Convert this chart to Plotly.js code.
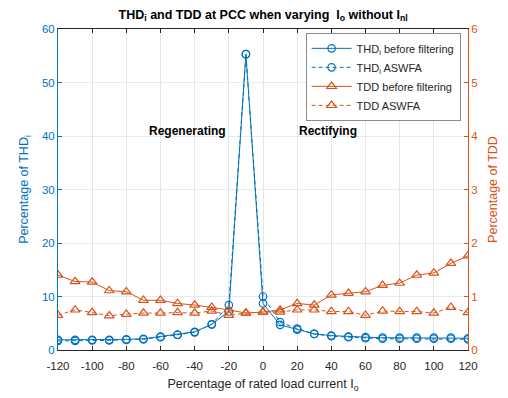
<!DOCTYPE html>
<html>
<head>
<meta charset="utf-8">
<script src="https://cdn.plot.ly/plotly-3.0.1.min.js"></script>
<style>html,body{margin:0;padding:0;background:#fff;}#chart{width:508px;height:398px;}</style>
</head>
<body>
<div id="chart"></div>
<script>
const loadPct = [-120,-110,-100,-90,-80,-70,-60,-50,-40,-30,-20,-10,0,10,20,30,40,50,60,70,80,90,100,110,120];
const thdBefore = [1.9,1.9,1.9,1.9,2.0,2.1,2.5,2.9,3.4,4.8,7.2,55.3,8.7,4.7,3.8,3.0,2.7,2.5,2.4,2.3,2.3,2.3,2.3,2.3,2.2];
const thdAswfa  = [1.7,1.7,1.8,1.8,1.9,2.0,2.4,2.8,3.3,4.8,8.4,55.3,10.0,5.2,4.0,3.0,2.6,2.4,2.2,2.1,2.1,2.1,2.1,2.1,2.0];
const tddBefore = [1.40,1.28,1.27,1.11,1.09,0.93,0.93,0.87,0.84,0.80,0.75,0.69,0.71,0.75,0.87,0.84,1.03,1.06,1.09,1.21,1.25,1.40,1.44,1.62,1.76];
const tddAswfa  = [0.65,0.75,0.70,0.64,0.67,0.69,0.69,0.70,0.69,0.73,0.65,0.69,0.71,0.71,0.75,0.75,0.72,0.72,0.65,0.73,0.72,0.72,0.69,0.80,0.70];
const xTicks = [-120,-100,-80,-60,-40,-20,0,20,40,60,80,100,120];
const leftTicks = [0,10,20,30,40,50,60];
const rightTicks = [0,1,2,3,4,5,6];

const blue = '#0072BD', orange = '#D95319';
const font = 'Liberation Sans, Arial, sans-serif';

const traces = [
  {x: loadPct, y: thdBefore, name: 'THD<sub>i</sub> before filtering', mode: 'lines+markers',
   line: {color: blue, width: 1}, marker: {symbol: 'circle-open', size: 7.5, color: blue, line: {width: 1.2}}, yaxis: 'y'},
  {x: loadPct, y: thdAswfa, name: 'THD<sub>i</sub> ASWFA', mode: 'lines+markers',
   line: {color: blue, width: 1, dash: '4px,3px'}, marker: {symbol: 'circle-open', size: 7.5, color: blue, line: {width: 1.2}}, yaxis: 'y'},
  {x: loadPct, y: tddBefore, name: 'TDD before filtering', mode: 'lines+markers',
   line: {color: orange, width: 1}, marker: {symbol: 'triangle-up-open', size: 8.5, color: orange, line: {width: 1.2}}, yaxis: 'y2'},
  {x: loadPct, y: tddAswfa, name: 'TDD ASWFA', mode: 'lines+markers',
   line: {color: orange, width: 1, dash: '4px,3px'}, marker: {symbol: 'triangle-up-open', size: 8.5, color: orange, line: {width: 1.2}}, yaxis: 'y2'}
];

const layout = {
  width: 508, height: 398,
  margin: {l: 58, r: 40, t: 29, b: 48},
  paper_bgcolor: '#fff', plot_bgcolor: '#fff',
  font: {family: font, size: 11, color: '#262626'},
  showlegend: true,
  title: {text: '<b>THD<sub>i</sub> and TDD at PCC when varying  I<sub>o</sub> without I<sub>nl</sub></b>',
          x: 0.518, xanchor: 'center', y: 0.975, yanchor: 'top', font: {size: 12.5, color: '#000'}},
  xaxis: {range: [-120, 120], tickvals: xTicks, ticktext: xTicks.map(String), ticks: 'inside', ticklen: 4,
          tickcolor: '#262626', showline: true, linecolor: '#262626', linewidth: 1, mirror: 'ticks',
          showgrid: true, gridcolor: '#e6e6e6', zeroline: false, tickfont: {size: 11.5, color: '#262626'},
          ticklabelstandoff: 5,
          title: {text: 'Percentage of rated load current I<sub>o</sub>', font: {size: 12.5, color: '#262626'}, standoff: 8}},
  yaxis: {range: [0, 60], tickvals: leftTicks, ticks: 'inside', ticklen: 4, tickcolor: blue,
          showline: true, linecolor: blue, linewidth: 1, showgrid: true, gridcolor: '#e1ecf6', zeroline: false,
          tickfont: {size: 11.5, color: blue},
          title: {text: 'Percentage of THD<sub>i</sub>', font: {size: 12.5, color: blue}, standoff: 10}},
  yaxis2: {range: [0, 6], tickvals: rightTicks, overlaying: 'y', side: 'right', ticks: 'inside', ticklen: 4,
           tickcolor: orange, showline: true, linecolor: orange, linewidth: 1, showgrid: false, zeroline: false,
           tickfont: {size: 11.5, color: orange},
           title: {text: 'Percentage of TDD', font: {size: 12.5, color: orange}, standoff: 10}},
  legend: {x: 0.982, xanchor: 'right', y: 0.988, yanchor: 'top', bgcolor: '#fff', bordercolor: '#8c8c8c',
           borderwidth: 1, font: {size: 11, color: '#262626'}, tracegroupgap: 0, itemwidth: 40},
  annotations: [
    {x: -44, y: 41, xref: 'x', yref: 'y', text: '<b>Regenerating</b>', showarrow: false, font: {size: 12, color: '#000'}},
    {x: 38, y: 41, xref: 'x', yref: 'y', text: '<b>Rectifying</b>', showarrow: false, font: {size: 12, color: '#000'}}
  ]
};

Plotly.newPlot('chart', traces, layout, {displayModeBar: false, staticPlot: true});
</script>
</body>
</html>
